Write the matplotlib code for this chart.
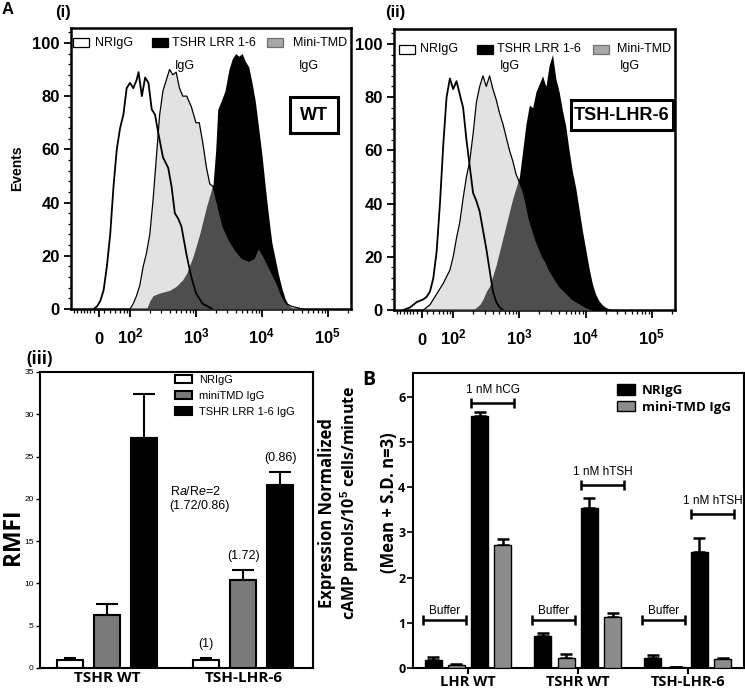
import matplotlib
matplotlib.use('Agg')
import matplotlib.pyplot as plt
from matplotlib.patches import Rectangle, Patch
from matplotlib.ticker import AutoMinorLocator, FixedLocator
import numpy as np

plt.rcParams.update({
    'font.family': ['Liberation Sans', 'DejaVu Sans'],
    'mathtext.fontset': 'custom',
    'mathtext.rm': 'Liberation Sans',
    'mathtext.it': 'Liberation Sans:italic',
    'mathtext.bf': 'Liberation Sans:bold',
})

# ---------------- data: flow histograms (x in decades of fluorescence) ----------
wt_nrigg_x = [1.45, 1.5, 1.55, 1.6, 1.65, 1.7, 1.75, 1.8, 1.85, 1.9, 1.95, 2.0, 2.05, 2.1, 2.13, 2.18,
              2.23, 2.28, 2.33, 2.38, 2.43, 2.5, 2.58, 2.63, 2.68, 2.73, 2.78, 2.86, 2.93, 3.0, 3.1, 3.25]
wt_nrigg_y = [0, 1, 3, 7, 16, 28, 46, 60, 68, 73, 83, 85, 83, 86, 89, 80,
              87, 85, 75, 73, 66, 57, 53, 46, 36, 34, 31, 20, 12, 6, 2, 0]
wt_mini_x = [2.0, 2.05, 2.1, 2.15, 2.2, 2.25, 2.3, 2.35, 2.4, 2.45, 2.5, 2.55, 2.6, 2.65, 2.7, 2.75,
             2.8, 2.86, 2.93, 3.0, 3.05, 3.1, 3.16, 3.21, 3.26, 3.31, 3.41, 3.5, 3.6, 3.7, 3.8, 3.88,
             3.95, 4.02, 4.12, 4.22, 4.3, 4.37, 4.45, 4.55, 4.62]
wt_mini_y = [0, 2, 5, 9, 16, 21, 28, 41, 57, 73, 82, 86, 90, 88, 89, 83,
             80, 80, 76, 70, 70, 63, 53, 47, 46, 41, 31, 26, 22, 19, 18, 19,
             23, 20, 15, 10, 5, 2, 1, 0.4, 0]
wt_lrr_x = [2.25, 2.3, 2.35, 2.45, 2.6, 2.7, 2.8, 2.86, 2.96, 3.06, 3.16, 3.26, 3.3, 3.33, 3.38, 3.44,
            3.5, 3.55, 3.6, 3.65, 3.7, 3.75, 3.8, 3.85, 3.9, 3.95, 4.0, 4.05, 4.1, 4.15, 4.2, 4.25,
            4.3, 4.35, 4.4, 4.47]
wt_lrr_y = [0, 3, 5, 6, 7, 8.5, 11, 13.5, 20, 28.5, 38.5, 47, 60, 75, 78, 82,
            90, 94, 96, 95, 96, 93, 91, 85, 78, 68, 58, 46, 35, 25, 19, 13,
            8, 4, 1.5, 0]

lhr_nrigg_x = [1.25, 1.35, 1.45, 1.55, 1.6, 1.65, 1.7, 1.75, 1.8, 1.85, 1.9, 1.95, 2.0, 2.05, 2.1,
               2.15, 2.2, 2.25, 2.3, 2.35, 2.4, 2.45, 2.5, 2.55, 2.6, 2.65, 2.7, 2.75]
lhr_nrigg_y = [0, 1, 3, 4, 5, 7, 12, 22, 40, 62, 80, 87, 83, 86, 81,
               76, 64, 54, 44, 41, 37, 30, 23, 15, 7, 3, 1, 0]
lhr_mini_x = [1.55, 1.65, 1.75, 1.85, 1.95, 2.0, 2.05, 2.1, 2.15, 2.2, 2.25, 2.3, 2.35, 2.4, 2.45,
              2.5, 2.55, 2.6, 2.65, 2.7, 2.75, 2.8, 2.85, 2.9, 2.95, 3.0, 3.05, 3.1, 3.15, 3.2,
              3.25, 3.3, 3.35, 3.4, 3.45, 3.5, 3.55, 3.6, 3.7, 3.8, 3.9, 4.0, 4.1]
lhr_mini_y = [0, 2, 6, 10, 15, 20, 27, 33, 42, 50, 56, 66, 78, 84, 88,
              84, 88, 83, 79, 74, 70, 65, 60, 56, 51, 48, 45, 40, 34, 30,
              26, 23, 20, 18, 15, 13, 11, 9, 6.5, 4, 2.5, 1, 0]
lhr_lrr_x = [2.3, 2.35, 2.4, 2.45, 2.5, 2.55, 2.6, 2.65, 2.7, 2.75, 2.8, 2.85, 2.9, 2.95, 3.0,
             3.05, 3.1, 3.15, 3.2, 3.25, 3.3, 3.35, 3.4, 3.45, 3.5, 3.55, 3.6, 3.65, 3.7, 3.75,
             3.8, 3.85, 3.9, 3.95, 4.0, 4.05, 4.1, 4.15, 4.2, 4.25, 4.3, 4.4]
lhr_lrr_y = [0, 1, 2, 4, 7, 9, 13, 17, 22, 27, 32, 37, 42, 46, 50,
             60, 70, 77, 76, 82, 85, 88, 84, 92, 96, 87, 82, 75, 69, 60,
             52, 46, 38, 30, 23, 16, 10, 6, 3.5, 2, 1, 0]

hist_tick_labels = ['0', r'$\mathbf{10^2}$', r'$\mathbf{10^3}$', r'$\mathbf{10^4}$', r'$\mathbf{10^5}$']
hist_legend_labels = ['NRIgG', 'TSHR LRR 1-6', 'Mini-TMD']

# ---------------- data: RMFI bars (iii) ----------------
rmfi_categories = ['TSHR WT', 'TSH-LHR-6']
rmfi_series = ['NRIgG', 'miniTMD IgG', 'TSHR LRR 1-6 IgG']
rmfi_nrigg = [1.0, 1.0]
rmfi_nrigg_err = [0.22, 0.15]
rmfi_mini = [6.3, 10.35]
rmfi_mini_err = [1.25, 1.25]
rmfi_lrr = [27.2, 21.6]
rmfi_lrr_err = [5.25, 1.62]
rmfi_notes = ['(1)', '(1.72)', '(0.86)']

# ---------------- data: cAMP bars (B) ----------------
camp_categories = ['LHR WT', 'TSHR WT', 'TSH-LHR-6']
camp_series = ['NRIgG', 'mini-TMD IgG']
nrigg_buffer = [0.18, 0.71, 0.22]
nrigg_buffer_err = [0.06, 0.07, 0.06]
mini_buffer = [0.06, 0.23, 0.012]
mini_buffer_err = [0.035, 0.07, 0.005]
nrigg_hormone = [5.57, 3.54, 2.57]
nrigg_hormone_err = [0.10, 0.22, 0.30]
mini_hormone = [2.72, 1.13, 0.21]
mini_hormone_err = [0.13, 0.08, 0.02]
hormone_labels = ['1 nM hCG', '1 nM hTSH', '1 nM hTSH']
hormone_bracket_y = [5.87, 4.05, 3.41]
buffer_bracket_y = [1.07, 1.07, 1.07]

# ---------------- figure ----------------
W, H = 745, 688
fig = plt.figure(figsize=(W / 100, H / 100), dpi=100)


def axes_px(l, t, r, b):
    return fig.add_axes([l / W, 1 - b / H, (r - l) / W, (b - t) / H])


def ftext(px, py, s, **kw):
    fig.text(px / W, 1 - py / H, s, **kw)


CAL = ['Open Sans', 'DejaVu Sans']
ARIAL = ['Liberation Sans', 'DejaVu Sans']

ax1 = axes_px(71, 28, 351, 309)
ax2 = axes_px(394, 29, 675, 310)
ax3 = axes_px(40, 372, 313, 668)
ax4 = axes_px(413, 373, 744, 668)

light = (0.738, 0.738, 0.738)


def draw_hist(ax, nx, ny, mx, my, lx, ly, boxlabel, boxr, legx):
    ax.fill_between(lx, ly, color='black', lw=0, zorder=2)
    ax.fill_between(mx, my, color=light, alpha=0.42, lw=0, zorder=3)
    ax.plot(mx, my, color='black', lw=0.9, zorder=4)
    ax.plot(nx, ny, color='black', lw=1.3, zorder=5)
    ax.set_xlim(1.106, 5.35)
    ax.set_ylim(0, 105.6)
    for s in ax.spines.values():
        s.set_linewidth(1.8)
    ax.set_xticks([1.53, 2, 3, 4, 5])
    ax.set_xticklabels(hist_tick_labels, fontsize=12, fontweight='bold')
    for lab in ax.get_xticklabels():
        lab.set_va('baseline')
    minor = [1.15, 1.2, 1.25, 1.3, 1.35, 1.4, 1.45] + [2 + np.log10(k / 10) for k in range(4, 10)]
    minor += [n + np.log10(k) for n in (2, 3, 4) for k in range(2, 10)] + [5 + np.log10(2)]
    ax.xaxis.set_minor_locator(FixedLocator(minor))
    ax.set_yticks([0, 20, 40, 60, 80, 100])
    ax.yaxis.set_minor_locator(AutoMinorLocator(5))
    ax.tick_params(axis='x', which='major', direction='out', length=6, width=1.3, pad=19)
    ax.tick_params(axis='x', which='minor', direction='out', length=3, width=0.9)
    ax.tick_params(axis='y', which='major', direction='out', length=5, width=1.3, pad=3)
    ax.tick_params(axis='y', which='minor', direction='out', length=2.5, width=0.9)
    for lab in ax.get_yticklabels():
        lab.set_fontsize(12)
        lab.set_fontweight('bold')
    # legend (manual)
    colors = [('white', 'black'), ('black', 'black'), ('#a8a8a8', '#707070')]
    for (bx, tx, ix), lab, (fc, ec) in zip(legx, hist_legend_labels, colors):
        ax.add_patch(Rectangle((bx, boxr[0]), 0.058, boxr[1], transform=ax.transAxes,
                               facecolor=fc, edgecolor=ec, lw=0.9, zorder=6, clip_on=False))
        ax.text(tx, boxr[2], lab, transform=ax.transAxes, fontsize=9, va='center', ha='left',
                family=ARIAL, zorder=6)
        if ix is not None:
            ax.text(ix, boxr[3], 'IgG', transform=ax.transAxes, fontsize=9, va='center',
                    ha='left', family=ARIAL, zorder=6)
    # label box
    bx0, by0, bx1, by1 = boxlabel[1]
    ax.add_patch(Rectangle((bx0, by0), bx1 - bx0, by1 - by0, transform=ax.transAxes,
                           facecolor='white', edgecolor='black', lw=2.2, zorder=6))
    ax.text((bx0 + bx1) / 2, (by0 + by1) / 2, boxlabel[0], transform=ax.transAxes,
            fontsize=13, fontweight='bold', ha='center', va='center', family=ARIAL, zorder=7)


draw_hist(ax1, wt_nrigg_x, wt_nrigg_y, wt_mini_x, wt_mini_y, wt_lrr_x, wt_lrr_y,
          ('WT', (0.782, 0.626, 0.954, 0.754)), (0.933, 0.03, 0.948, 0.866),
          [(0.007, 0.086, None), (0.289, 0.361, 0.371), (0.70, 0.793, 0.814)])
draw_hist(ax2, lhr_nrigg_x, lhr_nrigg_y, lhr_mini_x, lhr_mini_y, lhr_lrr_x, lhr_lrr_y,
          ('TSH-LHR-6', (0.63, 0.64, 0.993, 0.747)), (0.912, 0.03, 0.928, 0.87),
          [(0.018, 0.093, None), (0.295, 0.367, 0.377), (0.708, 0.794, 0.804)])
ax1.set_ylabel('Events', fontsize=10, fontweight='bold', family=ARIAL, labelpad=6)

# ---------------- panel (iii) ----------------
group_c3 = [1.0, 4.67]
offs3 = [-1.0, 0.0, 1.0]
w3 = 0.7
vals3 = [(rmfi_nrigg, rmfi_nrigg_err, 'white', 4.5),
         (rmfi_mini, rmfi_mini_err, '#7a7a7a', 8),
         (rmfi_lrr, rmfi_lrr_err, 'black', 8)]
for (v, e, c, cs), o, lab in zip(vals3, offs3, rmfi_series):
    xs = [g + o for g in group_c3]
    ax3.bar(xs, v, width=w3, color=c, edgecolor='black', lw=1.5, label=lab, zorder=3)
    ax3.errorbar(xs, v, yerr=[[0] * len(v), e], fmt='none', ecolor='black', elinewidth=1.5,
                 capsize=cs, capthick=1.5, zorder=2)
# annotations above TSH-LHR-6 bars
tops = [rmfi_nrigg[1] + rmfi_nrigg_err[1], rmfi_mini[1] + rmfi_mini_err[1], rmfi_lrr[1] + rmfi_lrr_err[1]]
for o, t, s in zip(offs3, tops, rmfi_notes):
    ax3.text(group_c3[1] + o, t + 1.65, s, ha='center', va='center', fontsize=9, family=ARIAL)
ax3.text(2.69, 20.9, r'R$a$/R$e$=2', ha='left', va='center', fontsize=9, family=ARIAL)
ax3.text(2.66, 19.15, '(1.72/0.86)', ha='left', va='center', fontsize=9, family=ARIAL)
ax3.set_xlim(-0.82, 6.55)
ax3.set_ylim(0, 35)
ax3.set_yticks(range(0, 36, 5))
ax3.set_xticks(group_c3)
ax3.set_xticklabels(rmfi_categories, fontsize=11, fontweight='bold', family=CAL)
ax3.tick_params(axis='x', length=0, pad=2)
ax3.tick_params(axis='y', direction='out', length=3, width=1, labelsize=6, pad=1.5)
for s in ax3.spines.values():
    s.set_linewidth(1.5)
ax3.legend(loc='upper left', bbox_to_anchor=(0.495, 0.99), frameon=False,
           handlelength=1.55, handleheight=0.75, labelspacing=0.55, handletextpad=0.6,
           borderaxespad=0, borderpad=0, prop={'family': ARIAL, 'size': 8})
ftext(13, 537, 'RMFI', rotation=90, fontsize=16.5, fontweight='bold', family=CAL,
      ha='center', va='center')

# ---------------- panel B ----------------
group_cB = [0.0, 4.72, 9.44]
wB = 0.73
setsB = [(nrigg_buffer, nrigg_buffer_err, 'black', -1.5, camp_series[0]),
         (mini_buffer, mini_buffer_err, '#8c8c8c', -0.5, camp_series[1]),
         (nrigg_hormone, nrigg_hormone_err, 'black', 0.5, None),
         (mini_hormone, mini_hormone_err, '#8c8c8c', 1.5, None)]
for v, e, c, o, lab in setsB:
    xs = [g + o for g in group_cB]
    ax4.bar(xs, v, width=wB, color=c, edgecolor='black', lw=1.0, label=lab, zorder=3)
    ax4.errorbar(xs, v, yerr=[[0] * len(v), e], fmt='none', ecolor='black', elinewidth=1.8,
                 capsize=4.3, capthick=1.8, zorder=2)
for g, yb, yh, hl in zip(group_cB, buffer_bracket_y, hormone_bracket_y, hormone_labels):
    a, b = g - 1.95, g - 0.1
    ax4.errorbar((a + b) / 2, yb, xerr=(b - a) / 2, fmt='none', ecolor='black', elinewidth=1.8,
                 capsize=3.6, capthick=1.8)
    ax4.annotate('Buffer', xy=((a + b) / 2, yb), xytext=(0, 6.5), textcoords='offset points',
                 ha='center', va='center', fontsize=8.5, family=ARIAL)
    a, b = g + 0.15, g + 1.98
    ax4.errorbar((a + b) / 2, yh, xerr=(b - a) / 2, fmt='none', ecolor='black', elinewidth=1.8,
                 capsize=3.6, capthick=1.8)
    ax4.annotate(hl, xy=((a + b) / 2, yh), xytext=(0, 9.5), textcoords='offset points',
                 ha='center', va='center', fontsize=8.5, family=ARIAL)
ax4.set_xlim(-2.36, 11.86)
ax4.set_ylim(0, 6.53)
ax4.set_yticks(range(0, 7))
ax4.set_xticks(group_cB)
ax4.set_xticklabels(camp_categories, fontsize=10.5, fontweight='bold', family=CAL)
ax4.tick_params(axis='x', direction='out', length=4, width=1.5, pad=1)
ax4.tick_params(axis='y', direction='out', length=4, width=1.2, pad=1.5)
for lab in ax4.get_yticklabels():
    lab.set_fontsize(9)
    lab.set_fontweight('bold')
    lab.set_family(CAL)
for s in ax4.spines.values():
    s.set_linewidth(1.5)
ax4.legend(loc='upper left', bbox_to_anchor=(0.617, 0.962), frameon=False,
           handlelength=1.35, handleheight=0.85, labelspacing=0.25, handletextpad=0.5,
           borderaxespad=0, borderpad=0, prop={'family': CAL, 'size': 9.5, 'weight': 'bold'})

ftext(327, 513, 'Expression Normalized', rotation=90, fontsize=12, fontweight='bold', family=CAL,
      ha='center', va='center')
ftext(350, 503, r'cAMP pmols/10$^{\mathbf{5}}$ cells/minute', rotation=90, fontsize=11.5,
      fontweight='bold', family=CAL, ha='center', va='center')
ftext(389, 503, '(Mean + S.D. n=3)', rotation=90, fontsize=12, fontweight='bold', family=CAL,
      ha='center', va='center')

# panel labels
ftext(8, 9, 'A', fontsize=12, fontweight='bold', family=ARIAL, ha='center', va='center')
ftext(63, 12, '(i)', fontsize=12, fontweight='bold', family=ARIAL, ha='center', va='center')
ftext(395, 12, '(ii)', fontsize=12, fontweight='bold', family=ARIAL, ha='center', va='center')
ftext(40, 359, '(iii)', fontsize=12, fontweight='bold', family=CAL, ha='center', va='center')
ftext(369, 380, 'B', fontsize=14, fontweight='bold', family=CAL, ha='center', va='center')

fig.savefig('out.png', dpi=100)
